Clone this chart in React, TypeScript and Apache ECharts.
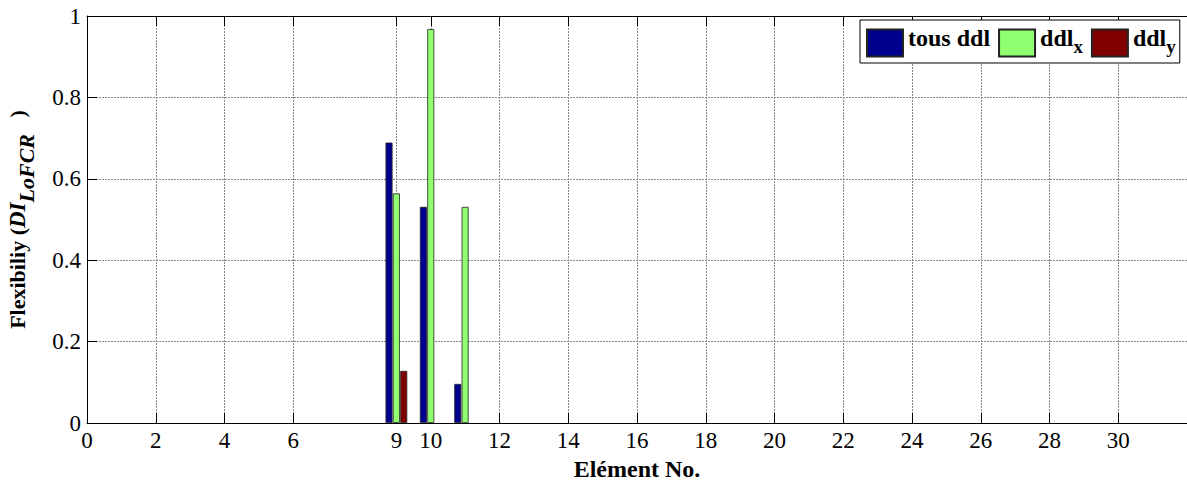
import React, { useEffect, useRef } from "react";
import * as echarts from "echarts";

// Element numbers carrying non-zero flexibility values
const elements = [9, 10, 11];
// Flexibility index per degree-of-freedom set
const tousDdl = [0.689, 0.531, 0.096];
const ddlX = [0.564, 0.968, 0.531];
const ddlY = [0.128, 0, 0];

const xTicks = [0, 2, 4, 6, 9, 10, 12, 14, 16, 18, 20, 22, 24, 26, 28, 30];
const seriesNames = ["tous ddl", "ddl_x", "ddl_y"];
const seriesColors = ["#00008F", "#90FF70", "#800000"];

const SERIF = "Liberation Serif";

export default function App() {
  const ref = useRef<HTMLDivElement>(null);

  useEffect(() => {
    if (!ref.current) return;
    const chart = echarts.init(ref.current, undefined, { renderer: "svg" });

    const values = [tousDdl, ddlX, ddlY];
    const series = seriesNames.map((name, i) => ({
      name,
      type: "bar" as const,
      xAxisIndex: 0,
      barWidth: 7,
      barGap: "5%",
      itemStyle: { color: seriesColors[i], borderColor: "#222", borderWidth: 0.8 },
      // zero-height bars are left empty so no stray outline sits on the axis
      data: elements.map((e, k) => [e, values[i][k] === 0 ? "-" : values[i][k]]),
    }));

    const legendLabels: Record<string, string> = {
      "tous ddl": "{m|tous ddl}",
      ddl_x: "{m|ddl}{s|x}",
      ddl_y: "{m|ddl}{s|y}",
    };

    chart.setOption({
      animation: false,
      backgroundColor: "#fff",
      textStyle: { fontFamily: SERIF },
      grid: {
        left: 87,
        top: 16,
        right: 13,
        bottom: 58,
        containLabel: false,
        outerBoundsMode: "none",
      },
      legend: {
        left: 860,
        top: 20,
        orient: "horizontal",
        itemWidth: 36,
        itemHeight: 27,
        itemGap: 8,
        padding: [6, 4, 3, 6],
        backgroundColor: "#fff",
        borderColor: "#000",
        borderWidth: 1,
        borderRadius: 0,
        icon: "rect",
        data: seriesNames,
        formatter: (n: string) => legendLabels[n],
        textStyle: {
          color: "#000",
          fontFamily: SERIF,
          rich: {
            m: {
              fontFamily: SERIF,
              fontWeight: "bold",
              fontSize: 24,
              lineHeight: 27,
              padding: [0, 0, 10, 0],
              color: "#000",
            },
            s: {
              fontFamily: SERIF,
              fontWeight: "bold",
              fontSize: 19,
              lineHeight: 27,
              padding: [6, 0, 0, 0],
              color: "#000",
            },
          },
        },
      },
      xAxis: [
        {
          type: "value",
          min: 0,
          max: 32,
          position: "bottom",
          name: "Elément No.",
          nameLocation: "middle",
          nameGap: 31,
          nameTextStyle: { fontFamily: SERIF, fontWeight: "bold", fontSize: 24, color: "#000" },
          axisLine: { show: true, onZero: false, lineStyle: { color: "#000", width: 1 } },
          axisTick: { show: true, inside: true, length: 10, customValues: xTicks, lineStyle: { color: "#000" } },
          axisLabel: {
            customValues: xTicks,
            fontFamily: SERIF,
            fontSize: 23,
            color: "#000",
            margin: 6,
          },
          splitLine: { show: true, lineStyle: { color: "#888", type: [2, 1], width: 1 } },
        },
        {
          type: "value",
          min: 0,
          max: 32,
          position: "top",
          axisLine: { show: true, onZero: false, lineStyle: { color: "#000", width: 1 } },
          axisTick: { show: true, inside: true, length: 10, customValues: xTicks, lineStyle: { color: "#000" } },
          axisLabel: { show: false },
          splitLine: { show: false },
        },
      ],
      yAxis: {
        type: "value",
        min: 0,
        max: 1,
        interval: 0.2,
        name: "{m|Flexibiliy (}{i|DI}{s|LoFCR}{m|   )}",
        nameLocation: "middle",
        nameRotate: 90,
        nameGap: 55,
        nameTextStyle: {
          color: "#000",
          fontFamily: SERIF,
          rich: {
            m: { fontFamily: SERIF, fontWeight: "bold", fontSize: 22, lineHeight: 30, color: "#000" },
            i: {
              fontFamily: SERIF,
              fontWeight: "bold",
              fontStyle: "italic",
              fontSize: 23,
              lineHeight: 30,
              color: "#000",
            },
            s: {
              fontFamily: SERIF,
              fontWeight: "bold",
              fontStyle: "italic",
              fontSize: 22,
              lineHeight: 30,
              padding: [18, 0, 0, 0],
              color: "#000",
            },
          },
        },
        axisLine: { show: true, lineStyle: { color: "#000", width: 1 } },
        axisTick: { show: true, inside: true, length: 10, lineStyle: { color: "#000" } },
        axisLabel: { fontFamily: SERIF, fontSize: 23, color: "#000", margin: 6 },
        splitLine: { show: true, lineStyle: { color: "#888", type: [2, 1], width: 1 } },
      },
      series,
    });

    return () => chart.dispose();
  }, []);

  return (
    <div
      style={{
        position: "absolute",
        left: 0,
        top: 0,
        width: 1187,
        height: 481,
        overflow: "hidden",
        background: "#fff",
      }}
    >
      <div ref={ref} style={{ width: 1200, height: 481 }} />
    </div>
  );
}
